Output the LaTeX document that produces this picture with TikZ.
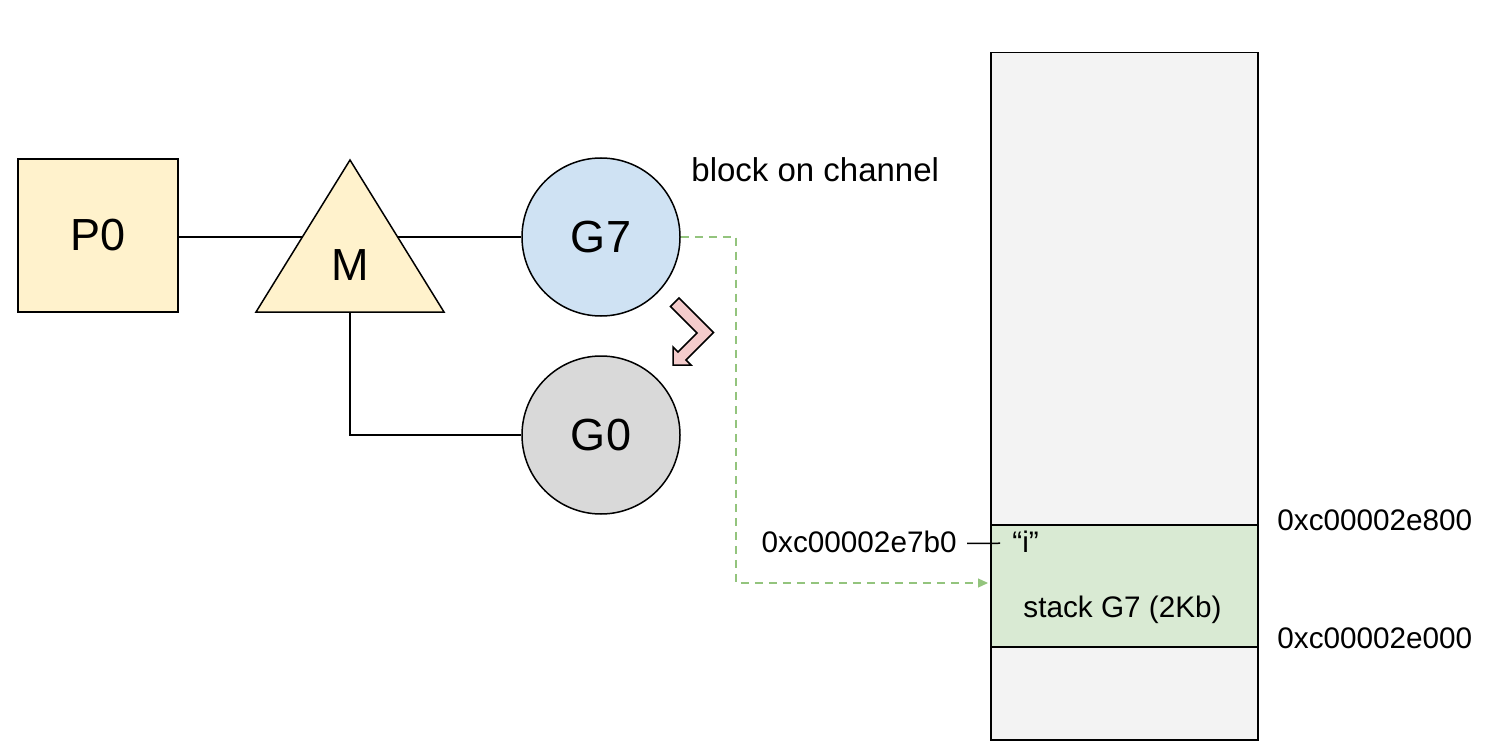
\documentclass[tikz,border=0pt]{standalone}
\usepackage{fontspec}
\setmainfont{Liberation Sans}
\usetikzlibrary{arrows.meta}
\definecolor{pyellow}{HTML}{FFF2CC}
\definecolor{gblue}{HTML}{CFE2F3}
\definecolor{ggray}{HTML}{D9D9D9}
\definecolor{memgray}{HTML}{F3F3F3}
\definecolor{stackgreen}{HTML}{D9EAD3}
\definecolor{dashgreen}{HTML}{93C47D}
\definecolor{pinkarrow}{HTML}{F4CCCC}
\tikzset{
  bigtext/.style={font=\fontsize{22.5}{27}\selectfont},
  smalltext/.style={font=\fontsize{14.85}{18}\selectfont, inner sep=0pt},
  gor/.style={circle, draw, line width=0.75pt, minimum size=79pt, inner sep=0pt, bigtext},
  conn/.style={draw, line width=0.75pt},
  greendash/.style={draw=dashgreen, line width=0.6pt, dash pattern=on 4pt off 3pt, -{Triangle[length=5pt,width=4.5pt]}},
}
\begin{document}
\begin{tikzpicture}[x=0.5pt,y=-0.5pt]
\useasboundingbox (0,0) rectangle (1488,754);
% P0 and goroutines
\node[draw, fill=pyellow, line width=0.75pt, minimum width=80pt, minimum height=76.5pt, bigtext] (P0) at (98,235.5) {P0};
\node[gor, fill=gblue] (G7) at (601,237) {G7};
\node[gor, fill=ggray] (G0) at (601,435) {G0};
% line P0 - M - G7 (behind triangle)
\draw[conn] (P0.east |- G7.west) -- (G7.west);
% M triangle
\draw[conn, fill=pyellow] (350,160) -- (444,312) -- (256,312) -- cycle;
\node[bigtext] (M) at (350,265) {M};
\coordinate (Mb) at (350,312);
\draw[conn] (Mb) |- (G0.west);
% label
\node[anchor=base west, inner sep=0pt, font=\fontsize{16.5}{20}\selectfont] (block) at (691,182) {block on channel};
% pink switch arrow
\draw[line width=0.75pt, fill=pinkarrow] (670.5,306.5) -- (679,298) -- (713.5,332.5) -- (686,360) -- (691,365) -- (673,365) -- (673,347) -- (678,352) -- (697,333) -- cycle;
% memory
\node[draw, fill=memgray, line width=0.75pt, minimum width=133.5pt, minimum height=343.5pt, anchor=north west, inner sep=0pt] (mem) at (990,52) {};
\node[draw, fill=stackgreen, line width=0.75pt, minimum width=133.5pt, minimum height=61pt, anchor=north west, inner sep=0pt] (stack) at (990,524) {};
\node[smalltext, anchor=base] (stacklbl) at (1122.5,617) {stack G7 (2Kb)};
\node[smalltext, anchor=base west] (ilabel) at (1012,552) {“i”};
\node[smalltext, anchor=base east] (addr) at (957,552) {0xc00002e7b0};
\draw[conn] ([xshift=5pt,yshift=-1pt]addr.east) -- ([xshift=-6pt,yshift=-1pt]ilabel.west);
\node[smalltext, anchor=base west] (top) at (1277,530) {0xc00002e800};
\node[smalltext, anchor=base west] (bot) at (1277,648) {0xc00002e000};
% dashed green connector
\coordinate (bend) at (736,583);
\draw[greendash] (G7.east) -| (bend) -- ([xshift=-1pt]bend -| stack.west);
\end{tikzpicture}
\end{document}
